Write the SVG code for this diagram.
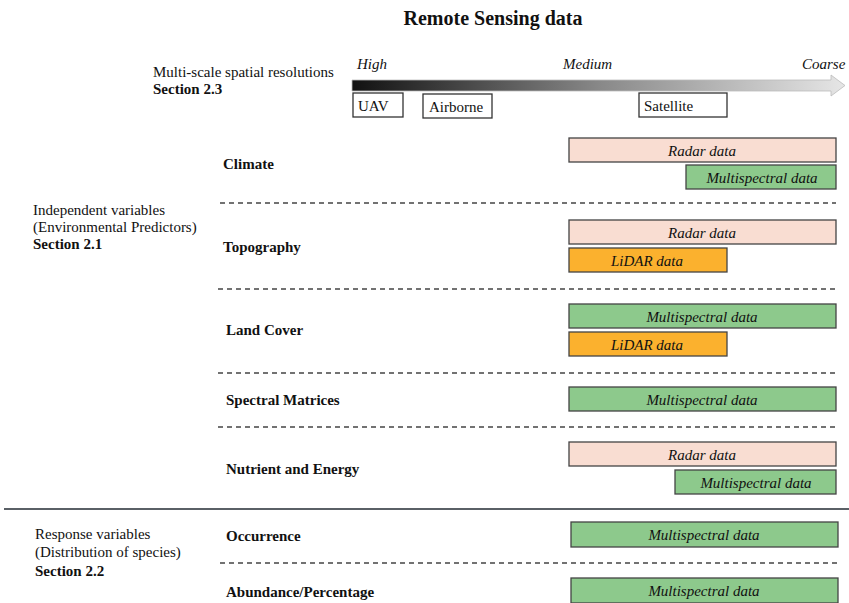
<svg xmlns="http://www.w3.org/2000/svg" width="849" height="603" viewBox="0 0 849 603">
<defs>
<linearGradient id="grad" x1="0" y1="0" x2="1" y2="0">
<stop offset="0" stop-color="#111"/>
<stop offset="0.5" stop-color="#888"/>
<stop offset="1" stop-color="#e6e6e6"/>
</linearGradient>
<style>
text{font-family:"Liberation Serif","DejaVu Serif",serif;fill:#111;}
.title{font-size:20px;font-weight:bold;}
.lbl{font-size:15px;font-weight:bold;}
.txt{font-size:15px;}
.it{font-size:15px;font-style:italic;}
.box{font-size:15px;font-style:italic;text-anchor:middle;}
.scale{fill:#fff;stroke:#333;stroke-width:1.3;}
.radar{fill:#f9ddd2;stroke:#444;stroke-width:1.3;}
.multi{fill:#8dc98c;stroke:#444;stroke-width:1.3;}
.lidar{fill:#fbb12e;stroke:#444;stroke-width:1.3;}
.dash{stroke:#444;stroke-width:1.3;stroke-dasharray:5,4;fill:none;}
</style>
</defs>
<text class="title" x="493" y="25" text-anchor="middle">Remote Sensing data</text>

<g id="scale">
<text class="txt" x="153" y="77">Multi-scale spatial resolutions</text>
<text class="lbl" x="153" y="94">Section 2.3</text>
<text class="it" x="357" y="69">High</text>
<text class="it" x="563" y="69">Medium</text>
<text class="it" x="802" y="69">Coarse</text>
<path d="M352,80 L831,80 L831,75 L845,85.5 L831,96 L831,91 L352,91 Z" fill="url(#grad)" stroke="#bbb" stroke-width="0.8"/>
</g>
<g id="uav"><rect class="scale" x="353" y="93" width="50" height="24"/><text class="txt" x="358" y="111">UAV</text></g>
<g id="airborne"><rect class="scale" x="423" y="94" width="69" height="24"/><text class="txt" x="429" y="112">Airborne</text></g>
<g id="satellite"><rect class="scale" x="639" y="93" width="88" height="24"/><text class="txt" x="644" y="111">Satellite</text></g>

<g id="independent">
<text class="txt" x="33" y="215">Independent variables</text>
<text class="txt" x="33" y="232">(Environmental Predictors)</text>
<text class="lbl" x="33" y="249">Section 2.1</text>
</g>
<g id="response">
<text class="txt" x="35" y="539">Response variables</text>
<text class="txt" x="35" y="557">(Distribution of species)</text>
<text class="lbl" x="35" y="576">Section 2.2</text>
</g>

<g id="climate">
<text class="lbl" x="223" y="169">Climate</text>
<rect class="radar" x="569" y="138" width="267" height="24"/><text class="box" x="702" y="156">Radar data</text>
<rect class="multi" x="686" y="165" width="150" height="24"/><text class="box" x="762" y="183">Multispectral  data</text>
</g>
<g id="topography">
<text class="lbl" x="223" y="252">Topography</text>
<rect class="radar" x="569" y="220" width="267" height="24"/><text class="box" x="702" y="238">Radar data</text>
<rect class="lidar" x="569" y="248" width="158" height="24"/><text class="box" x="647" y="266">LiDAR data</text>
</g>
<g id="landcover">
<text class="lbl" x="226" y="335">Land Cover</text>
<rect class="multi" x="569" y="304" width="267" height="24"/><text class="box" x="702" y="322">Multispectral data</text>
<rect class="lidar" x="569" y="332" width="158" height="24"/><text class="box" x="647" y="350">LiDAR data</text>
</g>
<g id="spectral">
<text class="lbl" x="226" y="405">Spectral Matrices</text>
<rect class="multi" x="569" y="387" width="267" height="24"/><text class="box" x="702" y="405">Multispectral data</text>
</g>
<g id="nutrient">
<text class="lbl" x="226" y="474">Nutrient and Energy</text>
<rect class="radar" x="569" y="442" width="267" height="24"/><text class="box" x="702" y="460">Radar data</text>
<rect class="multi" x="675" y="470" width="161" height="24"/><text class="box" x="756" y="488">Multispectral data</text>
</g>
<g id="occurrence">
<text class="lbl" x="226" y="541">Occurrence</text>
<rect class="multi" x="571" y="522" width="267" height="25"/><text class="box" x="704" y="540">Multispectral data</text>
</g>
<g id="abundance">
<text class="lbl" x="226" y="597">Abundance/Percentage</text>
<rect class="multi" x="571" y="578" width="267" height="25"/><text class="box" x="704" y="596">Multispectral data</text>
</g>

<g id="connectors">
<line class="dash" x1="220" y1="203" x2="836" y2="203"/>
<line class="dash" x1="218" y1="289" x2="836" y2="289"/>
<line class="dash" x1="218" y1="373" x2="836" y2="373"/>
<line class="dash" x1="218" y1="427" x2="836" y2="427"/>
<line class="dash" x1="220" y1="563" x2="838" y2="563"/>
<line x1="4" y1="509" x2="849" y2="509" stroke="#5a6066" stroke-width="2.2"/>
</g>
</svg>
